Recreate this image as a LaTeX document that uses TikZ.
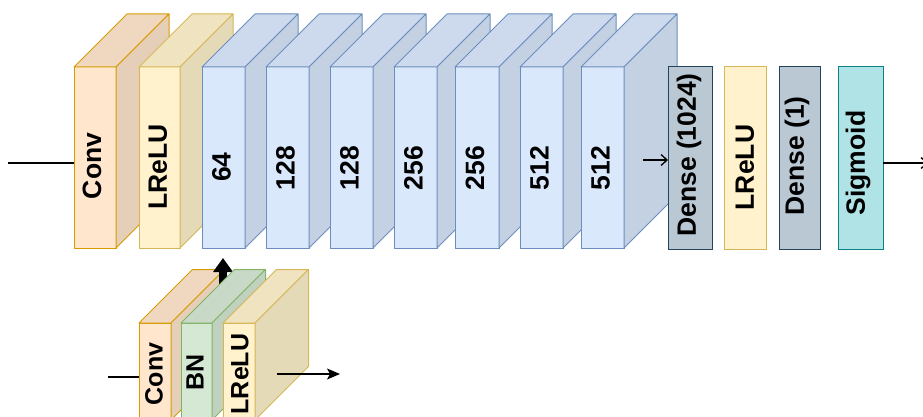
\documentclass[tikz,border=0pt]{standalone}
\usepackage{fontspec}
\newfontfamily\arialf{Liberation Sans}
\usetikzlibrary{arrows.meta}
\definecolor{orF}{HTML}{FFE6CC}\definecolor{orD}{HTML}{D79B00}
\definecolor{yeF}{HTML}{FFF2CC}\definecolor{yeD}{HTML}{D6B656}
\definecolor{blF}{HTML}{DAE8FC}\definecolor{blD}{HTML}{6C8EBF}
\definecolor{grF}{HTML}{D5E8D4}\definecolor{grD}{HTML}{82B366}
\definecolor{dnF}{HTML}{BAC8D3}\definecolor{dnD}{HTML}{23445D}
\definecolor{sgF}{HTML}{B0E3E6}\definecolor{sgD}{HTML}{0E8088}
\tikzset{
  face/.style={rectangle, inner sep=0pt, outer sep=0pt, line width=1pt},
  lbl/.style={rotate=90, inner sep=0pt, font=\arialf\bfseries\fontsize{26.5}{26.5}\selectfont},
  slbl/.style={rotate=90, inner sep=0pt, font=\arialf\bfseries\fontsize{25}{25}\selectfont},
  conn/.style={line width=1.3pt, black},
  thinarrow/.style={conn, -{Straight Barb[length=6pt,width=11pt]}},
  fillarrow/.style={conn, -{Stealth[length=13pt,width=11pt,inset=3pt]}},
}
% name, x1, x2, ytop, ybottom, depth, fill, draw
\newcommand\cubeblk[8]{%
  \node[face, fill=#7, draw=#8, minimum width={#3-#2}, minimum height={#5-#4}, anchor=north west] (#1) at (#2,#4) {};
  \filldraw[line width=1pt, line join=round, fill=#7!94!black, draw=#8]
    (#1.north west) -- ++(#6,-#6) -- ([shift={(#6,-#6)}]#1.north east) -- (#1.north east) -- cycle;
  \filldraw[line width=1pt, line join=round, fill=#7!90!black, draw=#8]
    (#1.north east) -- ++(#6,-#6) -- ([shift={(#6,-#6)}]#1.south east) -- (#1.south east) -- cycle;
}
\newcommand\flatblk[6]{% name, x1, x2, ytop, ybottom, fill/draw prefix
  \node[face, fill=#6F, draw=#6D, minimum width={#3-#2}, minimum height={#5-#4}, anchor=north west] (#1) at (#2,#4) {};
}
\begin{document}
\begin{tikzpicture}[x=1pt,y=-1pt]
\clip (0,0) rectangle (923,417);
\fill[white] (0,0) rectangle (923,417);
% top row
\cubeblk{c1}{74}{116}{67}{248}{53}{orF}{orD}
\node[lbl] (c1t) at (92,166) {Conv};
\cubeblk{c2}{139}{180}{67}{248}{53}{yeF}{yeD}
\node[lbl] (c2t) at (158,167) {LReLU};
\cubeblk{b1}{202}{245}{67}{248}{53}{blF}{blD}
\node[lbl] (b1t) at (221.5,167) {64};
\cubeblk{b2}{266}{309}{67}{248}{53}{blF}{blD}
\node[lbl] (b2t) at (285.5,168) {128};
\cubeblk{b3}{330}{373}{67}{248}{53}{blF}{blD}
\node[lbl] (b3t) at (349.5,168) {128};
\cubeblk{b4}{394}{437}{67}{248}{53}{blF}{blD}
\node[lbl] (b4t) at (413.5,168) {256};
\cubeblk{b5}{455}{499}{67}{248}{53}{blF}{blD}
\node[lbl] (b5t) at (475,168) {256};
\cubeblk{b6}{520}{563}{67}{248}{53}{blF}{blD}
\node[lbl] (b6t) at (539.5,168) {512};
\cubeblk{b7}{581}{624}{67}{248}{53}{blF}{blD}
\node[lbl] (b7t) at (600.5,168) {512};
% dense head
\flatblk{d1}{668}{712}{67}{249}{dn}
\node[lbl] (d1t) at (689,155) {Dense (1024)};
\flatblk{r2}{724}{766}{67}{249}{ye}
\node[lbl] (r2t) at (745,167.5) {LReLU};
\flatblk{d2}{779}{820}{67}{249}{dn}
\node[lbl] (d2t) at (797,156) {Dense (1)};
\flatblk{s1}{838}{883}{67}{249}{sg}
\node[lbl] (s1t) at (858,163) {Sigmoid};
% connectors top
\coordinate (in1) at (8,163);
\draw[conn] (in1) -- (in1 -| c1.west);
\coordinate (a1) at (643,160);
\draw[thinarrow] (a1) -- (a1 -| d1.west);
\coordinate (out1) at (928,163);
\draw[thinarrow] (s1.east |- out1) -- (out1);
% bottom block
\cubeblk{k1}{139}{171}{323}{420}{53.5}{orF}{orD}
\node[slbl] (k1t) at (154,374) {Conv};
\coordinate (up0) at (223,284);
\coordinate (up1) at (223,258);
\draw[line width=7.5pt, -{Triangle[length=14pt,width=19pt]}] (up0) -- (up1);
\cubeblk{k2}{181}{212}{323}{420}{53.5}{grF}{grD}
\node[slbl] (k2t) at (195,372) {BN};
\cubeblk{k3}{223}{255}{323}{420}{53.5}{yeF}{yeD}
\node[slbl] (k3t) at (240,374) {LReLU};
\coordinate (in2) at (108,377);
\draw[conn] (in2) -- (in2 -| k1.west);
\coordinate (o2a) at (277,374);
\coordinate (o2b) at (340,374);
\draw[fillarrow] (o2a) -- (o2b);
\end{tikzpicture}
\end{document}
